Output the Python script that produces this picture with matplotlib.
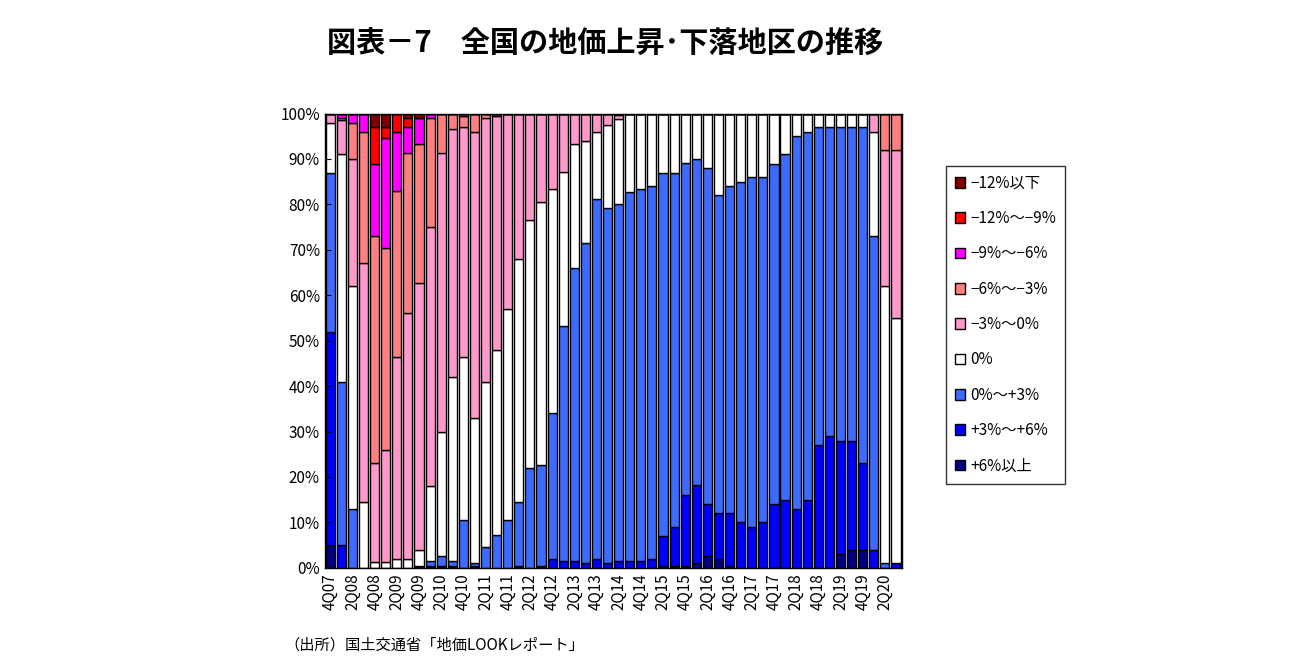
import matplotlib
matplotlib.use("Agg")
import matplotlib.pyplot as plt
import numpy as np

plt.rcParams["font.family"] = ["Noto Sans CJK JP", "DejaVu Sans"]

quarters = []
for y in range(7, 21):
    for q in range(1, 5):
        if (y == 7 and q < 4) or (y == 20 and q > 3):
            continue
        quarters.append(f"{q}Q{y:02d}")

series_names = ["+6%以上", "+3%〜+6%", "0%〜+3%", "0%", "−3%〜0%", "−6%〜−3%", "−9%〜−6%", "−12%〜−9%", "−12%以下"]
colors = ["#000080", "#0000FF", "#3D6BFF", "#FFFFFF", "#FF99CC", "#FF8080", "#FF00FF", "#FF0000", "#800000"]

# rows: each quarter, columns: segments in series_names order
data = [
    [5, 47, 35, 11, 2, 0, 0, 0, 0],
    [0, 5, 36, 50, 7.5, 0.5, 1, 0, 0],
    [0, 0, 13, 49, 28, 8, 2, 0, 0],
    [0, 0, 0, 14.5, 52.5, 29, 4, 0, 0],
    [0, 0, 0, 1.3, 21.7, 50, 16, 8, 3],
    [0, 0, 0, 1.3, 24.7, 44.5, 24.2, 2.3, 3],
    [0, 0, 0, 2, 44.5, 36.5, 13, 4, 0],
    [0, 0, 0, 2, 54, 35.4, 5.6, 2, 1],
    [0.5, 0, 0, 3.5, 58.7, 30.7, 5.6, 0, 1],
    [0.5, 0, 1, 16.5, 57, 24, 1, 0, 0],
    [0.5, 0, 2, 27.5, 61.4, 8.6, 0, 0, 0],
    [0.5, 0, 1, 40.5, 54.7, 3.3, 0, 0, 0],
    [0, 0, 10.6, 35.9, 50.5, 2.5, 0.5, 0, 0],
    [0.3, 0, 0.7, 32, 63, 4, 0, 0, 0],
    [0, 0, 4.6, 36.4, 58, 1, 0, 0, 0],
    [0, 0, 7.3, 40.7, 51.5, 0.5, 0, 0, 0],
    [0, 0, 10.6, 46.4, 43, 0, 0, 0, 0],
    [0.5, 0, 14, 53.5, 32, 0, 0, 0, 0],
    [0, 0, 22, 54.6, 23.4, 0, 0, 0, 0],
    [0.5, 0, 22.2, 57.9, 19.4, 0, 0, 0, 0],
    [0, 2, 32, 49.3, 16.7, 0, 0, 0, 0],
    [0, 1.5, 51.8, 33.9, 12.8, 0, 0, 0, 0],
    [0, 1.5, 64.5, 27.4, 6.6, 0, 0, 0, 0],
    [0, 1, 70.4, 22.6, 6, 0, 0, 0, 0],
    [0, 2, 79.3, 14.7, 4, 0, 0, 0, 0],
    [0, 1, 78.3, 18.2, 2.5, 0, 0, 0, 0],
    [0, 1.5, 78.5, 18.7, 1, 0.3, 0, 0, 0],
    [0, 1.5, 81.3, 17.2, 0, 0, 0, 0, 0],
    [0, 1.5, 81.9, 16.6, 0, 0, 0, 0, 0],
    [0, 2, 82.1, 15.9, 0, 0, 0, 0, 0],
    [0.5, 6.5, 80, 13, 0, 0, 0, 0, 0],
    [0.5, 8.5, 78, 13, 0, 0, 0, 0, 0],
    [0.5, 15.5, 73.2, 10.8, 0, 0, 0, 0, 0],
    [1, 17.3, 71.7, 10, 0, 0, 0, 0, 0],
    [2.5, 11.5, 74, 12, 0, 0, 0, 0, 0],
    [2, 10, 70, 18, 0, 0, 0, 0, 0],
    [0.5, 11.5, 72, 16, 0, 0, 0, 0, 0],
    [0, 10, 75, 15, 0, 0, 0, 0, 0],
    [0, 9, 77, 14, 0, 0, 0, 0, 0],
    [0, 10, 76, 14, 0, 0, 0, 0, 0],
    [0, 14, 75, 11, 0, 0, 0, 0, 0],
    [0, 15, 76, 9, 0, 0, 0, 0, 0],
    [0, 13, 82, 5, 0, 0, 0, 0, 0],
    [0, 15, 81, 4, 0, 0, 0, 0, 0],
    [0, 27, 70, 3, 0, 0, 0, 0, 0],
    [0, 29, 68, 3, 0, 0, 0, 0, 0],
    [3, 25, 69, 3, 0, 0, 0, 0, 0],
    [4, 24, 69, 3, 0, 0, 0, 0, 0],
    [4, 19, 74, 3, 0, 0, 0, 0, 0],
    [0, 4, 69, 23, 4, 0, 0, 0, 0],
    [0, 0, 1, 61, 30, 8, 0, 0, 0],
    [0, 1, 0, 54, 37, 8, 0, 0, 0],
]

arr = np.array(data, dtype=float)
arr = arr / arr.sum(axis=1, keepdims=True) * 100

fig = plt.figure(figsize=(12.99, 6.72), dpi=100)
ax = fig.add_axes([0.250, 0.155, 0.444, 0.676])
x = np.arange(len(quarters))
bottom = np.zeros(len(quarters))
handles = []
for j, name in enumerate(series_names):
    h = ax.bar(x, arr[:, j], bottom=bottom, width=0.82, color=colors[j],
               edgecolor="black", linewidth=1.0, label=name)
    handles.append(h)
    bottom += arr[:, j]

ax.set_xlim(-0.5, len(quarters) - 0.5)
ax.set_ylim(0, 100)
ax.set_yticks(np.arange(0, 101, 10))
ax.set_yticklabels([f"{v}%" for v in range(0, 101, 10)], fontsize=11)
ax.set_xticks(x[::2])
ax.set_xticklabels(quarters[::2], rotation=90, fontsize=11)
ax.tick_params(axis="x", length=0, pad=4)
ax.tick_params(axis="y", length=4, direction="in")
for s in ax.spines.values():
    s.set_linewidth(1.0)

fig.legend(handles[::-1], series_names[::-1], loc="upper left",
           bbox_to_anchor=(0.722, 0.765), frameon=True, fancybox=False,
           edgecolor="black", fontsize=11, handlelength=0.7, handleheight=0.7,
           labelspacing=1.2, borderpad=0.6, handletextpad=0.3)

fig.text(0.466, 0.935, "図表－7　全国の地価上昇･下落地区の推移", ha="center", va="center",
         fontsize=21, fontweight="bold")
fig.text(0.219, 0.04, "（出所）国土交通省「地価LOOKレポート」", ha="left", va="center", fontsize=11)

fig.savefig("out.png", dpi=100)
